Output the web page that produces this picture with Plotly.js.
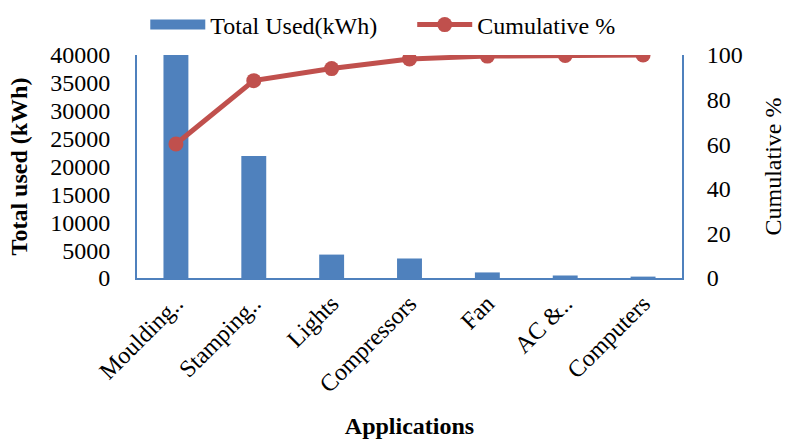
<!DOCTYPE html>
<html>
<head>
<meta charset="utf-8">
<script src="https://cdn.plot.ly/plotly-3.0.1.min.js"></script>
<style>html,body{margin:0;padding:0;background:#fff;}#chart{width:786px;height:439px;}</style>
</head>
<body>
<div id="chart"></div>
<script>
const categories = ["Moulding..", "Stamping..", "Lights", "Compressors", "Fan", "AC &..", "Computers"];
const totalUsed = [40000, 21900, 4200, 3500, 1000, 450, 250];
const cumulativePct = [60.1, 88.5, 93.9, 98.2, 99.5, 99.8, 100];

const FONT = "Liberation Serif, Times New Roman, serif";
const BLUE = "#4F81BD";
const RED = "#C0504D";

const traces = [
  {
    type: "bar", name: "Total Used(kWh)", x: categories, y: totalUsed,
    marker: {color: BLUE}, yaxis: "y", showlegend: false
  },
  {
    type: "scatter", mode: "lines", name: "Total Used(kWh)\u00a0\u00a0\u00a0\u00a0\u00a0", x: [categories[0]], y: [null],
    line: {color: BLUE, width: 10}, yaxis: "y", showlegend: true, hoverinfo: "skip"
  },
  {
    type: "scatter", mode: "lines+markers", name: "Cumulative %", x: categories, y: cumulativePct,
    line: {color: RED, width: 5}, marker: {color: RED, size: 15}, yaxis: "y2"
  }
];

const layout = {
  width: 786, height: 439,
  margin: {l: 137, r: 104, t: 55, b: 161},
  paper_bgcolor: "#fff", plot_bgcolor: "#fff",
  font: {family: FONT, size: 24, color: "#000"},
  bargap: 0.68,
  showlegend: true,
  legend: {orientation: "h", x: 0.487, xref: "container", xanchor: "center",
           y: 0.943, yref: "container", yanchor: "middle",
           font: {family: FONT, size: 24}, itemwidth: 55, traceorder: "normal",
           bgcolor: "rgba(0,0,0,0)"},
  xaxis: {
    tickangle: -45, showgrid: false, zeroline: false,
    showline: true, linecolor: BLUE, linewidth: 2,
    ticks: "", automargin: false,
    tickfont: {family: FONT, size: 24},
    title: {text: "<b>Applications</b>", font: {family: FONT, size: 24}, standoff: 26}
  },
  yaxis: {
    range: [0, 40000], dtick: 5000, tickformat: "d", showgrid: false, zeroline: false,
    showline: true, linecolor: BLUE, linewidth: 2,
    ticks: "outside", ticklen: 20, tickcolor: "rgba(0,0,0,0)",
    automargin: false, tickfont: {family: FONT, size: 24},
    title: {text: "<b>Total used (kWh)</b>", font: {family: FONT, size: 24}, standoff: 16}
  },
  yaxis2: {
    overlaying: "y", side: "right", range: [0, 100], dtick: 20,
    showgrid: false, zeroline: false,
    showline: true, linecolor: BLUE, linewidth: 2,
    ticks: "outside", ticklen: 18, tickcolor: "rgba(0,0,0,0)",
    automargin: false, tickfont: {family: FONT, size: 24},
    title: {text: "Cumulative %", font: {family: FONT, size: 24}, standoff: 30}
  }
};

Plotly.newPlot("chart", traces, layout, {displayModeBar: false, staticPlot: true});
</script>
</body>
</html>
